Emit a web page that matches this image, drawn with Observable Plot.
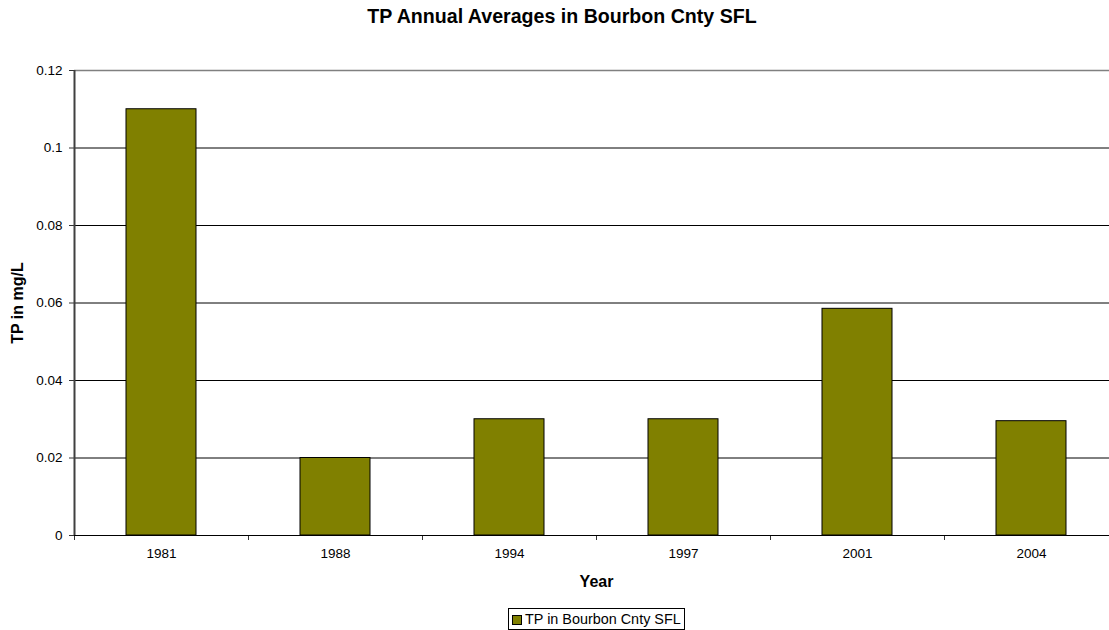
<!DOCTYPE html>
<html>
<head>
<meta charset="utf-8">
<script src="https://cdn.jsdelivr.net/npm/d3@7"></script>
<script src="https://cdn.jsdelivr.net/npm/@observablehq/plot@0.6"></script>
<style>
  html, body { margin: 0; padding: 0; background: #fff; overflow: hidden; width: 1109px; height: 630px; }
  #wrap { position: relative; width: 1118px; height: 630px; font-family: "Liberation Sans", Arial, sans-serif; }
  #title { position: absolute; left: 3px; top: 0; width: 1118px; height: 32px; line-height: 32px; text-align: center; font-weight: bold; font-size: 19.6px; color: #000; }
  #chart { position: absolute; left: 0; top: 32px; }
  #legend { position: absolute; left: 508px; top: 608px; width: 177px; height: 22px; border: 1px solid #000; box-sizing: border-box; font-size: 14.4px; line-height: 20px; white-space: nowrap; color: #000; }
  #legend .sw { display: inline-block; width: 8px; height: 8px; border: 1px solid #000; background: #808000; margin: 0 3px 0 3px; vertical-align: -1px; }
</style>
</head>
<body>
<div id="wrap">
  <div id="title">TP Annual Averages in Bourbon Cnty SFL</div>
  <div id="chart"></div>
  <div id="legend"><span class="sw"></span>TP in Bourbon Cnty SFL</div>
</div>
<script>
const years = ["1981", "1988", "1994", "1997", "2001", "2004"];
const tpValues = [0.11, 0.02, 0.03, 0.03, 0.0585, 0.0295];
const yTicks = [0, 0.02, 0.04, 0.06, 0.08, 0.1, 0.12];
const seriesName = "TP in Bourbon Cnty SFL";
const yTitle = "TP in mg/L";
const xTitle = "Year";

const data = years.map((y, i) => ({year: y, value: tpValues[i]}));

const W = 1118, H = 568, ML = 74, MR = 0, MT = 38, MB = 65;
const step = (W - ML - MR) / years.length;

const plot = Plot.plot({
  width: W,
  height: H,
  marginLeft: ML,
  marginRight: MR,
  marginTop: MT,
  marginBottom: MB,
  style: {fontFamily: "'Liberation Sans', Arial, sans-serif", fontSize: "13.5px", color: "#000", background: "#fff", overflow: "visible"},
  x: {type: "band", domain: years, paddingInner: 0.6, paddingOuter: 0.3, label: null},
  y: {domain: [0, 0.12], label: null},
  marks: [
    Plot.ruleY(yTicks.slice(0, -1), {stroke: "#000", strokeWidth: 1}),
    Plot.ruleY(yTicks.slice(-1), {stroke: "#808080", strokeWidth: 1.5}),
    Plot.barY(data, {x: "year", y: "value", fill: "#808000", stroke: "#000", strokeWidth: 1}),
    Plot.axisY({ticks: yTicks, tickFormat: d => String(d), tickSize: 5, tickPadding: 7, stroke: "#333", fontSize: 13.5}),
    Plot.ruleX([years[0]], {dx: -step / 2, stroke: "#404040", strokeWidth: 2}),
    Plot.axisX({tickSize: 0, tickPadding: 13, fontSize: 13.5}),
    Plot.axisX({ticks: years, tickSize: 5, tickFormat: () => "", dx: -step / 2, stroke: "#333"}),
    Plot.ruleY([0], {stroke: "#000", strokeWidth: 1}),
    Plot.text([yTitle], {frameAnchor: "left", textAnchor: "middle", dx: -57, rotate: -90, fontWeight: "bold", fontSize: 16, lineAnchor: "middle"}),
    Plot.text([xTitle], {frameAnchor: "bottom", textAnchor: "middle", dy: 46, fontWeight: "bold", fontSize: 16, lineAnchor: "middle"})
  ]
});
document.getElementById("chart").appendChild(plot);
</script>
</body>
</html>
